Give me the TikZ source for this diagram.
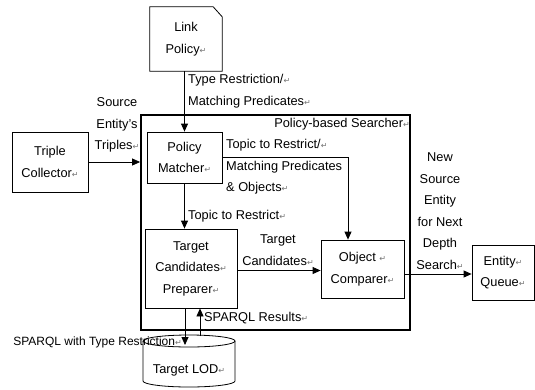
\documentclass[tikz,border=0pt]{standalone}
\usepackage{fontspec}
\setmainfont{Liberation Sans}
\newfontfamily\symfont{DejaVu Sans}
\usetikzlibrary{arrows.meta}
\newcommand\retmark{{\symfont\fontsize{8}{8}\selectfont\textcolor{black!55}{↵}}}
\begin{document}
\begin{tikzpicture}[x=1pt,y=-1pt,
  every node/.style={font=\fontsize{12.8}{21.5}\selectfont},
  box/.style={draw, line width=0.8pt, inner sep=0pt, align=center},
  lbl/.style={inner sep=0pt, align=left},
  clbl/.style={inner sep=0pt, align=center},
  arr/.style={line width=0.8pt, -{Triangle[length=8pt,width=7pt]}}]
\useasboundingbox (0,0) rectangle (535,389);
\fill[white] (0,0) rectangle (535,389);

% outer frame
\node[draw, line width=1.8pt, inner sep=0pt, minimum width=269pt, minimum height=215pt] (outer) at (275.5,222.5) {};

% boxes
\node[inner sep=0pt, align=center, minimum width=72pt, minimum height=64pt] (lp) at (186,39) {Link\\Policy\retmark};
\draw[line width=0.8pt] (lp.south west) -- (lp.north west) -- ([xshift=-9pt]lp.north east) -- ([yshift=-10pt]lp.north east) -- (lp.south east) -- cycle;

\node[box, minimum width=76pt, minimum height=60pt] (tc) at (50,162) {Triple\\Collector\retmark};
\node[box, minimum width=75pt, minimum height=51pt] (pm) at (184.5,157.5) {Policy\\Matcher\retmark};
\node[box, minimum width=92pt, minimum height=79pt] (prep) at (191,268.5) {Target\\Candidates\retmark\\Preparer\retmark};
\node[box, minimum width=83pt, minimum height=58pt] (oc) at (362.5,269) {Object \retmark\\Comparer\retmark};
\node[box, minimum width=62pt, minimum height=55pt] (eq) at (503,272.5) {Entity\retmark\\Queue\retmark};

% cylinder Target LOD
\draw[line width=0.8pt] (143,341) -- (143,381) arc[start angle=180, end angle=360, x radius=46pt, y radius=6pt] -- (235,341);
\draw[line width=0.8pt] (189,341) ellipse [x radius=46pt, y radius=6pt];
\node[inner sep=0pt] (lod) at (189,370) {Target LOD\retmark};
\coordinate (lodin) at (189,345);
\coordinate (lodout) at (189,336);

% connectors
\draw[arr] (lp.south -| pm.north) -- (pm.north);
\draw[arr] (tc.east) -- (tc.east -| outer.west);
\draw[arr] (pm.east) -| ([xshift=-14.5pt]oc.north);
\draw[arr] (pm.south) -- (pm.south |- prep.north);
\draw[arr] ([yshift=-2pt]prep.east) -- ([yshift=-2pt]prep.east -| oc.west);
\draw[arr] ([yshift=-5pt]oc.east) -- ([yshift=-5pt]oc.east -| eq.west);
\draw[arr] ([xshift=-6pt]prep.south) -- ([xshift=-6pt]prep.south |- lodin);
\draw[arr] ([xshift=9pt]prep.south |- lodout) -- ([xshift=9pt]prep.south);

% labels
\node[lbl, anchor=west] (l1) at (188,91) {Type Restriction/\retmark\\Matching Predicates\retmark};
\node[clbl] (l2) at (117,125) {Source\\Entity's\\Triples\retmark};
\node[lbl, anchor=east] (l3) at (410,124) {Policy-based Searcher\retmark};
\node[lbl, anchor=west] (l4) at (226,167) {Topic to Restrict/\retmark\\Matching Predicates\\\& Objects\retmark};
\node[lbl, anchor=west] (l5) at (188,216) {Topic to Restrict\retmark};
\node[clbl] (l6) at (278,250) {Target\\Candidates\retmark};
\node[clbl] (l7) at (440,211) {New\\Source\\Entity\\for Next\\Depth\\Search\retmark};
\node[lbl, anchor=east, font=\fontsize{12}{14}\selectfont] (l8) at (182,342) {SPARQL with Type Restriction\retmark};
\node[lbl, anchor=west] (l9) at (204,318) {SPARQL Results\retmark};
\end{tikzpicture}
\end{document}
